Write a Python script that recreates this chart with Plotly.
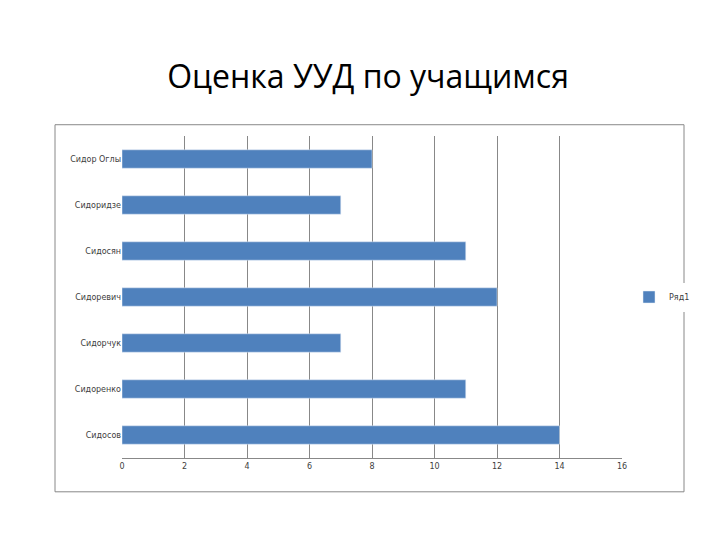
import plotly.graph_objects as go

categories = ["Сидосов", "Сидоренко", "Сидорчук", "Сидоревич", "Сидосян", "Сидоридзе", "Сидор Оглы"]
values = [14, 11, 7, 12, 11, 7, 8]
series_name = "Ряд1"

fig = go.Figure(go.Bar(y=categories, x=values, orientation="h", name=series_name,
                       marker_color="#4F81BD", width=0.4, showlegend=True))
fig.update_layout(
    width=720, height=540, paper_bgcolor="white", plot_bgcolor="white",
    margin=dict(l=114, r=106, t=128, b=90),
    title=dict(text="Оценка УУД по учащимся", x=0.5, xanchor="center", y=0.872, yanchor="middle",
               font=dict(family="Open Sans, Liberation Sans", size=32, color="black")),
    font=dict(family="DejaVu Sans", size=8, color="#404040"),
    xaxis=dict(range=[0, 16], dtick=2, showgrid=True, gridcolor="#888888", gridwidth=1, automargin=False,
               showline=True, linecolor="#888888", zeroline=False, ticks="", tickfont=dict(size=8)),
    yaxis=dict(showline=False, ticks="", tickfont=dict(size=8), automargin=False),
    legend=dict(x=0.014, y=0.5, xanchor="left", yanchor="middle", font=dict(size=8), xref="paper"),
    bargap=0.6,
    shapes=[dict(type="rect", xref="paper", yref="paper", x0=-0.134, x1=1.124, y0=-0.105, y1=1.035,
                 line=dict(color="#888888", width=1))],
)
fig.update_layout(legend_x=1.014)
fig.write_html("out.html")
